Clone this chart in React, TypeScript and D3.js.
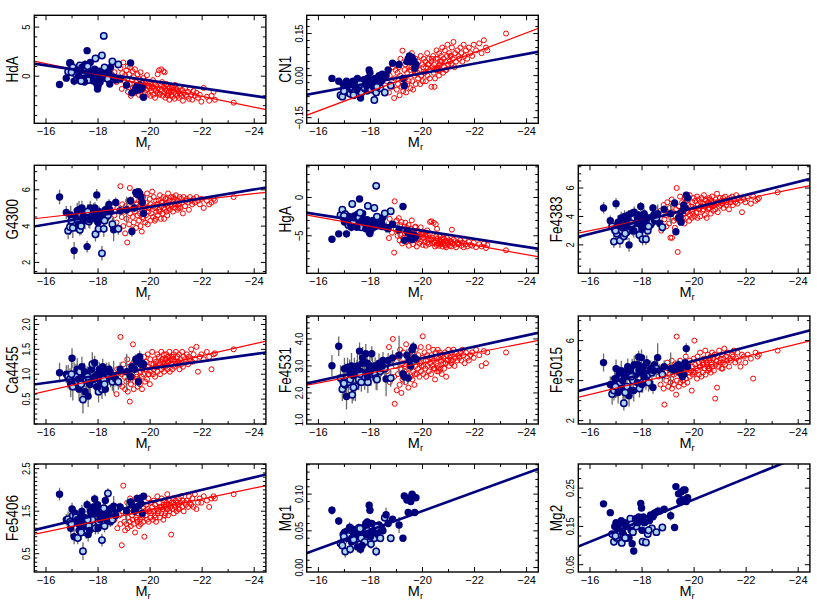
import React from "react";
import * as d3 from "d3";

// ---------- shared axis ----------
const mrDomain = [-15.55, -24.45];
const mrMajor = [-16, -18, -20, -22, -24];
const mrMinor = [-16, -17, -18, -19, -20, -21, -22, -23, -24];

// ---------- blue sample (dwarfs) ----------
const blueMr = [
  -16.52, -16.78, -16.85, -16.92, -16.95, -17.0, -17.03, -17.08, -17.12, -17.15,
  -17.2, -17.22, -17.27, -17.3, -17.33, -17.38, -17.42, -17.45, -17.5, -17.55,
  -17.58, -17.62, -17.65, -17.7, -17.75, -17.78, -17.82, -17.87, -17.9, -17.95,
  -17.98, -18.02, -18.05, -18.1, -18.15, -18.18, -18.22, -18.28, -18.33, -18.38,
  -18.42, -18.48, -18.55, -18.6, -18.68, -18.78, -18.85, -19.1, -19.25, -19.3,
  -19.45, -19.5, -19.55, -19.6, -19.65, -19.7, -19.75, -17.25, -17.48, -17.68,
  -17.88, -18.08, -18.25, -17.35, -17.85, -16.98, -18.45, -17.6, -18.0, -19.4,
];
const blueOpen = [
  0, 0, 1, 1, 0, 0, 1, 0, 0, 1,
  0, 1, 0, 1, 0, 0, 1, 0, 0, 1,
  0, 0, 1, 0, 0, 1, 0, 0, 1, 0,
  0, 1, 0, 0, 1, 0, 1, 0, 0, 1,
  0, 0, 1, 0, 0, 1, 0, 0, 0, 0,
  0, 0, 0, 0, 0, 0, 0, 0, 0, 0,
  0, 0, 1, 1, 0, 1, 0, 1, 0, 0,
];
const blueErr = [
  1.0, 0.9, 1.2, 1.1, 1.3, 1.0, 1.4, 1.2, 0.9, 1.3,
  1.1, 1.0, 1.2, 0.8, 1.1, 1.0, 1.4, 0.9, 1.2, 1.0,
  0.8, 1.1, 0.9, 1.0, 0.8, 1.2, 0.9, 0.7, 1.0, 0.8,
  0.9, 1.1, 0.7, 0.9, 1.0, 0.8, 1.1, 0.7, 0.9, 0.8,
  0.7, 0.8, 0.9, 1.6, 0.7, 0.8, 0.7, 1.8, 0.6, 0.7,
  0.5, 0.6, 0.5, 0.6, 0.5, 0.6, 0.5, 1.1, 0.9, 1.2,
  0.8, 0.9, 1.0, 1.2, 0.8, 1.3, 0.7, 1.0, 0.9, 0.6,
];

// ---------- red sample (giants) ----------
const redMr = [
  -18.63, -18.71, -18.74, -18.83, -18.86, -18.91, -18.93, -18.97, -19.01, -19.04,
  -19.06, -19.09, -19.12, -19.14, -19.15, -19.19, -19.22, -19.23, -19.26, -19.31,
  -19.33, -19.34, -19.37, -19.41, -19.42, -19.46, -19.47, -19.52, -19.54, -19.57,
  -19.59, -19.61, -19.63, -19.64, -19.68, -19.69, -19.73, -19.74, -19.78, -19.81,
  -19.83, -19.84, -19.88, -19.91, -19.93, -19.94, -19.99, -20.01, -20.03, -20.04,
  -20.08, -20.11, -20.13, -20.14, -20.18, -20.19, -20.23, -20.24, -20.28, -20.29,
  -20.33, -20.34, -20.38, -20.41, -20.43, -20.44, -20.48, -20.51, -20.53, -20.54,
  -20.58, -20.59, -20.63, -20.64, -20.66, -20.69, -20.71, -20.74, -20.76, -20.79,
  -20.81, -20.83, -20.86, -20.88, -20.91, -20.94, -20.96, -20.99, -21.02, -21.05,
  -21.07, -21.11, -21.13, -21.16, -21.19, -21.23, -21.26, -21.29, -21.34, -21.38,
  -21.41, -21.46, -21.49, -21.53, -21.58, -21.62, -21.67, -21.72, -21.78, -21.84,
  -21.91, -21.97, -22.06, -22.18, -22.27, -22.36, -22.44, -22.49, -23.21, -20.56,
  -19.96, -20.21, -20.46, -20.68, -20.89, -19.71, -19.49, -20.36, -20.61, -21.09,
];

// ---------- index values ----------
const hdaBlue = [
  -0.85, -0.2, 0.45, 1.35, 1.3, 0.8, 0.9, -0.5, 0.3, 0.2,
  0.6, -0.3, -0.4, 1.1, 0.5, 0.9, 0.0, -0.2, 1.2, 0.6,
  2.6, 0.3, -0.4, 1.4, 0.1, 0.2, -0.5, 0.7, 1.8, -0.8,
  -1.3, 0.3, 0.5, -0.1, 2.1, 0.2, 4.1, -0.2, 0.6, -0.3,
  0.3, 0.9, 1.5, -0.1, -0.4, 1.2, -0.3, -0.9, 1.35, -1.7,
  -1.2, -1.0, -1.4, -0.9, -1.3, -1.1, -2.15, 0.0, -0.6, 0.4,
  -0.2, -0.6, 0.9, -0.5, 0.1, 0.4, -0.8, 1.0, -1.0, -1.5,
];
const hdaRed = [
  0.4, -0.6, 1.2, -0.2, 0.8, -1.3, 0.3, 1.4, -0.5, 0.1,
  -1.0, 0.6, -0.3, 1.0, -1.6, 0.2, -0.8, 0.9, -2.0, -0.4,
  0.5, -1.2, -0.1, -1.7, 0.7, -0.6, -1.4, 0.2, -0.9, -1.9,
  -0.3, -1.1, 0.4, -1.6, -0.7, -2.1, -0.2, -1.3, -0.9, -1.7,
  -0.5, -1.4, 0.1, -1.0, -1.8, -0.6, -1.2, -2.0, -0.8, -1.5,
  -1.1, -0.4, -1.9, -1.3, -0.7, -2.2, -1.5, -1.0, -1.7, 0.2,
  -1.2, 0.6, -1.8, -0.9, 0.7, -1.4, -2.0, 0.5, -1.1, -1.6,
  -1.3, -2.2, -0.8, -1.5, -1.9, -1.0, -1.7, -2.4, -1.2, -1.5,
  -1.9, -1.1, -2.1, -1.4, -1.6, -2.3, -0.9, -1.8, -1.3, -2.0,
  -1.5, -2.2, -1.1, -1.8, -2.0, -1.4, -2.5, -1.7, -1.2, -1.9,
  -2.1, -1.6, -2.3, -1.3, -1.9, -2.4, -1.5, -2.0, -1.7, -2.2,
  -1.9, -2.6, -1.2, -2.1, -2.5, -2.0, -1.6, -2.4, -2.7, 0.4,
  -1.0, -1.4, -0.6, -2.0, -1.2, -0.7, -1.5, -1.9, -0.9, -1.6,
];
const cn1Blue = [
  -0.01, -0.02, -0.07, -0.075, -0.03, -0.04, -0.05, -0.02, -0.045, -0.06,
  -0.03, -0.065, -0.05, -0.04, -0.02, -0.035, -0.055, -0.03, -0.01, -0.05,
  -0.025, -0.08, -0.06, -0.04, -0.015, -0.045, -0.03, -0.055, -0.035, 0.02,
  0.01, -0.05, -0.02, -0.04, -0.087, -0.01, -0.06, -0.03, 0.0, -0.045,
  -0.02, -0.01, -0.06, 0.0, 0.02, -0.035, 0.044, 0.04, -0.01, -0.036,
  0.06, 0.07, 0.05, 0.065, 0.055, 0.026, 0.04, -0.03, -0.05, -0.02,
  -0.01, -0.025, -0.04, -0.07, -0.035, -0.055, 0.005, -0.03, -0.015, 0.05,
];
const cn1Red = [
  -0.02, -0.06, 0.0, -0.04, 0.03, -0.08, -0.01, 0.02, -0.05, 0.01,
  -0.03, 0.03, -0.07, 0.0, 0.06, -0.04, -0.02, 0.089, -0.055, 0.02,
  -0.01, 0.04, -0.06, 0.01, -0.03, 0.05, -0.02, 0.02, -0.045, 0.03,
  0.08, -0.02, 0.04, -0.05, 0.02, 0.0, 0.06, -0.03, 0.03, 0.01,
  -0.01, 0.05, 0.02, -0.03, 0.07, 0.0, 0.04, -0.02, 0.03, 0.06,
  0.01, 0.05, -0.02, 0.03, 0.08, 0.0, 0.04, 0.06, -0.01, 0.02,
  0.05, -0.04, 0.03, 0.07, 0.01, 0.04, -0.01, 0.06, 0.02, 0.09,
  0.03, 0.06, 0.0, 0.08, 0.04, 0.02, 0.07, 0.05, 0.1, 0.01,
  0.06, 0.03, 0.09, 0.05, 0.02, 0.07, 0.11, 0.04, 0.08, 0.05,
  0.07, 0.04, 0.1, 0.06, 0.12, 0.03, 0.08, 0.05, 0.09, 0.07,
  0.06, 0.1, 0.08, 0.05, 0.11, 0.07, 0.09, 0.06, 0.1, 0.08,
  0.07, 0.11, 0.09, 0.115, 0.08, 0.126, 0.1, 0.09, 0.15, 0.02,
  0.0, 0.04, -0.04, 0.05, 0.02, 0.01, 0.03, 0.06, 0.02, 0.07,
];
const g4300Blue = [
  5.6, 4.75, 3.75, 3.95, 4.6, 4.4, 3.9, 2.65, 4.5, 4.2,
  4.85, 4.3, 4.9, 3.8, 4.1, 5.0, 4.45, 4.6, 4.3, 4.6,
  2.87, 4.75, 4.25, 5.0, 4.5, 4.7, 4.9, 4.4, 3.55, 5.72,
  4.55, 3.85, 4.8, 4.6, 2.5, 4.65, 3.85, 4.9, 4.5, 4.6,
  5.2, 4.8, 4.1, 3.8, 5.3, 3.85, 4.85, 4.9, 5.4, 3.7,
  5.85, 5.75, 5.9, 5.8, 5.6, 5.3, 4.7, 4.1, 4.7, 4.35,
  5.0, 4.45, 4.3, 4.0, 4.7, 4.3, 4.9, 4.8, 4.2, 5.0,
];
const g4300Red = [
  4.6, 4.2, 5.0, 3.9, 6.2, 4.5, 5.2, 4.0, 4.8, 3.6,
  5.1, 4.4, 3.1, 4.9, 5.4, 4.1, 6.1, 4.7, 5.3, 3.8,
  4.5, 5.0, 4.2, 5.5, 4.8, 3.9, 5.2, 4.6, 5.9, 4.3,
  5.1, 4.7, 4.0, 5.4, 3.7, 4.9, 5.6, 4.4, 5.0, 4.2,
  5.3, 4.6, 5.8, 4.1, 5.0, 4.8, 5.5, 4.3, 5.2, 4.7,
  5.9, 4.5, 5.1, 5.6, 4.3, 5.0, 5.4, 4.8, 5.2, 4.6,
  5.4, 4.9, 5.7, 4.4, 5.1, 5.3, 4.7, 5.6, 5.0, 4.4,
  5.2, 5.5, 4.8, 5.3, 4.6, 5.8, 5.0, 5.4, 4.9, 5.2,
  5.6, 5.1, 5.4, 4.8, 5.5, 5.2, 5.0, 5.7, 5.3, 4.9,
  5.4, 5.2, 5.6, 5.0, 5.5, 5.3, 4.7, 5.6, 5.1, 5.4,
  5.5, 5.3, 4.9, 5.6, 5.4, 5.2, 5.5, 5.3, 5.6, 5.4,
  5.2, 5.5, 5.0, 5.4, 5.2, 5.3, 5.5, 5.4, 5.6, 4.9,
  5.0, 4.4, 5.3, 5.1, 5.6, 4.5, 5.2, 4.8, 5.5, 5.0,
];
const hgaBlue = [
  -5.45, -4.75, -2.3, -1.6, -2.6, -3.2, -2.2, -4.75, -3.0, -3.6,
  -2.5, -3.4, -3.9, -0.86, -2.9, -2.4, -3.3, -3.7, -2.2, -2.7,
  -0.2, -3.6, -3.9, -2.1, -3.3, -3.0, -4.1, -2.9, -1.1, -4.5,
  -4.7, -3.2, -3.5, -3.0, -1.38, -3.8, 1.52, -3.4, -3.7, -2.8,
  -3.3, -2.6, -2.1, -3.9, -4.1, -1.8, -3.5, -4.2, -1.17, -5.6,
  -4.6, -5.4, -5.2, -5.5, -4.9, -5.3, -5.1, -3.5, -3.9, -3.0,
  -3.4, -4.0, -2.5, -3.1, -3.6, -2.4, -3.8, -2.0, -4.3, -4.4,
];
const hgaRed = [
  -3.9, -5.3, -2.8, -4.6, -3.5, -7.2, -0.5, -4.1, -3.0, -5.0,
  -4.4, -2.7, -5.6, -3.6, -4.9, -3.2, -6.0, -4.2, -5.3, -3.8,
  -4.7, -3.3, -5.8, -4.0, -5.1, -3.6, -6.3, -4.5, -5.5, -4.1,
  -3.0, -5.2, -4.4, -6.1, -4.8, -5.6, -3.8, -5.0, -6.4, -4.3,
  -5.4, -4.6, -6.0, -5.1, -3.9, -5.7, -4.8, -6.2, -5.3, -4.5,
  -5.8, -4.9, -6.3, -5.2, -4.3, -5.9, -5.5, -6.1, -4.7, -3.2,
  -5.6, -3.1, -6.0, -5.3, -3.3, -5.8, -6.4, -3.5, -5.1, -6.2,
  -5.4, -6.0, -5.7, -6.3, -5.0, -5.9, -6.1, -5.5, -6.4, -5.2,
  -6.0, -5.4, -6.2, -5.7, -6.5, -5.3, -5.9, -6.1, -5.6, -6.3,
  -5.8, -6.4, -4.2, -6.0, -5.5, -6.2, -5.7, -6.5, -5.9, -6.1,
  -6.0, -5.6, -6.3, -5.9, -6.5, -5.4, -6.1, -6.4, -5.8, -6.2,
  -6.3, -5.9, -6.5, -6.1, -6.4, -6.0, -6.6, -6.2, -6.9, -4.1,
  -4.8, -5.0, -5.9, -5.7, -6.3, -3.9, -4.6, -5.5, -6.0, -5.7,
];
const fe4383Blue = [
  4.6, 3.7, 3.3, 2.23, 3.1, 4.9, 2.8, 3.6, 3.4, 2.3,
  3.9, 3.0, 3.6, 2.6, 4.0, 3.2, 2.9, 3.8, 2.0, 3.5,
  4.2, 3.3, 3.0, 4.3, 3.5, 3.1, 3.9, 4.1, 2.7, 4.7,
  3.8, 2.4, 3.3, 4.0, 2.4, 3.6, 3.0, 3.9, 3.4, 3.6,
  4.6, 3.7, 3.9, 4.2, 3.5, 3.24, 4.5, 4.2, 4.95, 2.93,
  4.0, 3.6, 4.4, 4.8, 4.6, 5.5, 5.3, 3.2, 4.1, 3.0,
  3.5, 4.2, 3.3, 2.8, 3.8, 3.0, 4.1, 3.5, 3.1, 3.9,
];
const fe4383Red = [
  3.6, 4.4, 3.0, 4.8, 3.8, 4.1, 3.3, 5.0, 4.2, 3.5,
  4.6, 2.5, 3.9, 5.2, 2.5, 4.3, 3.7, 4.9, 3.2, 4.5,
  6.0, 3.8, 1.5, 4.7, 4.0, 5.4, 3.6, 4.4, 5.0, 3.9,
  4.2, 4.9, 3.5, 5.3, 4.6, 3.9, 5.1, 4.3, 4.8, 3.7,
  5.5, 4.1, 4.7, 3.9, 5.0, 4.4, 5.3, 4.0, 4.6, 5.1,
  4.3, 5.4, 3.9, 4.8, 5.2, 4.5, 4.0, 5.0, 4.7, 5.3,
  4.4, 4.9, 5.5, 4.1, 4.7, 5.2, 3.9, 4.8, 5.0, 4.5,
  5.3, 4.6, 4.9, 4.2, 5.1, 5.4, 4.7, 4.4, 5.0, 4.8,
  4.5, 5.2, 4.9, 5.6, 4.3, 5.0, 4.7, 5.3, 4.8, 5.1,
  4.9, 5.3, 4.6, 5.1, 5.4, 4.8, 5.0, 5.2, 4.5, 5.3,
  5.0, 5.4, 4.8, 5.2, 5.0, 5.5, 4.9, 5.3, 5.1, 4.3,
  5.2, 5.0, 5.3, 4.9, 5.4, 5.1, 5.2, 5.3, 5.7, 4.6,
  4.2, 4.6, 5.1, 4.8, 5.0, 4.4, 3.9, 4.5, 5.2, 4.9,
];
const ca4455Blue = [
  1.03, 1.0, 0.95, 0.9, 0.8, 1.32, 0.75, 1.0, 0.85, 0.95,
  1.1, 0.85, 0.7, 1.05, 0.9, 1.15, 0.49, 0.95, 0.65, 0.9,
  1.0, 0.56, 0.85, 0.8, 1.1, 1.2, 0.9, 1.23, 0.8, 0.75,
  1.0, 0.65, 1.1, 0.85, 0.7, 1.15, 0.9, 0.7, 1.05, 1.0,
  1.1, 0.9, 0.85, 0.95, 0.9, 0.85, 1.1, 1.05, 0.95, 1.15,
  1.3, 1.25, 0.85, 1.35, 1.2, 1.22, 1.2, 0.9, 1.05, 0.8,
  0.95, 1.0, 0.8, 0.8, 0.9, 1.0, 1.05, 0.95, 0.75, 1.1,
];
const ca4455Red = [
  0.9, 0.6, 1.1, 0.8, 1.75, 1.0, 0.75, 1.2, 0.95, 0.7,
  1.05, 0.85, 1.3, 0.65, 0.9, 1.15, 0.45, 1.0, 0.8, 1.2,
  0.95, 1.6, 0.7, 1.1, 0.85, 1.25, 1.0, 0.75, 1.15, 0.9,
  1.3, 0.8, 1.05, 1.2, 0.95, 0.7, 1.15, 1.0, 1.35, 0.85,
  1.1, 1.25, 0.9, 1.4, 1.0, 1.15, 0.8, 1.3, 1.05, 1.2,
  1.45, 1.0, 1.2, 1.1, 1.3, 0.95, 1.25, 1.15, 1.4, 1.05,
  1.2, 1.35, 1.0, 1.25, 1.45, 1.1, 1.3, 1.15, 1.4, 1.05,
  1.3, 1.15, 1.4, 1.2, 1.1, 1.35, 1.25, 1.45, 1.05, 1.3,
  1.2, 1.35, 1.1, 1.3, 1.4, 1.15, 1.25, 1.45, 1.2, 1.35,
  1.25, 1.4, 1.1, 1.3, 1.2, 1.45, 1.15, 1.35, 1.3, 1.25,
  1.4, 1.2, 1.35, 1.3, 1.5, 1.25, 1.4, 1.3, 1.55, 1.05,
  1.35, 1.4, 1.3, 1.45, 1.35, 1.1, 1.4, 1.42, 1.5, 1.2,
  1.0, 1.15, 1.3, 1.25, 1.35, 1.1, 0.95, 1.2, 1.3, 1.25,
];
const fe4531Blue = [
  3.01, 3.73, 2.55, 2.14, 2.4, 2.9, 2.3, 1.87, 2.95, 2.4,
  2.8, 2.5, 3.0, 1.93, 2.65, 2.9, 2.25, 2.7, 3.0, 2.5,
  3.55, 2.8, 2.4, 3.3, 2.7, 2.6, 3.45, 3.1, 2.4, 2.9,
  3.0, 2.7, 3.45, 2.8, 2.75, 3.0, 2.55, 2.9, 3.1, 2.8,
  2.9, 3.2, 2.9, 2.52, 3.2, 2.55, 3.3, 3.4, 2.7, 2.6,
  2.55, 3.2, 3.0, 3.6, 3.7, 3.3, 3.25, 2.7, 2.85, 3.1,
  2.6, 2.95, 2.5, 2.2, 3.1, 2.35, 3.0, 2.7, 2.8, 3.4,
];
const fe4531Red = [
  2.8, 3.7, 2.4, 3.2, 4.0, 2.6, 1.6, 3.0, 2.1, 3.4,
  2.7, 3.3, 2.3, 3.6, 2.9, 2.0, 3.1, 2.5, 3.5, 2.8,
  3.0, 2.4, 3.8, 2.7, 3.2, 2.2, 3.4, 2.9, 2.6, 3.6,
  3.1, 2.5, 3.5, 2.8, 3.3, 2.3, 3.0, 3.6, 2.7, 3.2,
  2.9, 3.4, 2.6, 3.1, 3.7, 2.8, 3.3, 4.1, 2.7, 3.0,
  3.5, 2.9, 3.2, 2.6, 3.4, 3.0, 3.7, 2.8, 3.3, 3.1,
  2.7, 3.4, 3.0, 3.6, 2.9, 3.2, 2.5, 3.5, 3.1, 3.3,
  3.0, 3.6, 2.8, 3.3, 3.5, 2.9, 3.2, 2.7, 3.4, 3.1,
  3.3, 2.9, 3.5, 3.1, 2.6, 3.4, 3.2, 3.6, 3.0, 3.3,
  3.4, 3.1, 3.5, 3.2, 3.6, 3.0, 3.3, 3.5, 3.2, 3.4,
  3.3, 3.5, 3.2, 3.6, 3.4, 3.1, 3.5, 3.3, 3.2, 3.4,
  3.5, 3.3, 3.6, 3.4, 3.0, 3.55, 3.1, 3.5, 3.5, 2.8,
  3.0, 3.2, 2.9, 3.4, 3.1, 2.7, 3.0, 3.3, 2.9, 3.2,
];
const fe5015Blue = [
  4.9, 3.8, 3.33, 3.5, 4.1, 4.6, 3.8, 3.4, 4.3, 3.9,
  4.5, 4.1, 3.6, 2.87, 4.2, 4.4, 3.7, 4.7, 3.24, 4.2,
  3.5, 4.6, 4.0, 4.8, 4.3, 4.5, 3.9, 5.18, 3.6, 4.4,
  5.15, 3.9, 4.7, 4.4, 4.0, 4.9, 4.3, 3.9, 4.6, 4.4,
  3.66, 4.8, 4.6, 5.15, 4.5, 4.3, 4.7, 4.6, 4.5, 4.7,
  4.4, 4.6, 4.2, 4.3, 4.9, 5.6, 4.7, 4.0, 4.4, 3.5,
  4.5, 4.2, 3.9, 3.4, 4.8, 3.7, 4.5, 4.2, 3.8, 4.8,
];
const fe5015Red = [
  4.2, 3.8, 4.6, 3.6, 2.8, 4.4, 4.0, 4.9, 3.7, 4.3,
  4.7, 3.9, 4.1, 5.0, 3.6, 4.5, 3.8, 4.3, 4.8, 3.3,
  6.2, 4.0, 4.6, 3.7, 4.4, 5.0, 3.9, 4.2, 4.7, 4.0,
  4.5, 3.8, 4.9, 4.3, 5.2, 4.1, 4.6, 3.9, 4.8, 4.4,
  4.2, 5.0, 4.5, 3.5, 4.7, 4.3, 5.1, 6.0, 4.4, 4.8,
  4.6, 4.1, 5.2, 4.5, 4.9, 4.3, 5.4, 4.7, 4.2, 5.0,
  4.8, 4.4, 5.1, 4.6, 5.5, 4.3, 4.9, 4.7, 5.3, 4.5,
  5.0, 4.6, 5.2, 4.4, 4.9, 5.4, 4.7, 5.1, 4.5, 5.3,
  3.1, 4.8, 5.0, 3.65, 5.2, 4.7, 5.5, 4.9, 5.1, 4.6,
  5.3, 4.9, 5.1, 5.6, 4.8, 5.2, 5.0, 5.4, 4.7, 5.1,
  5.0, 5.3, 5.2, 5.5, 4.9, 5.1, 5.4, 5.0, 4.7, 5.3,
  5.2, 4.9, 5.3, 5.1, 4.1, 5.4, 5.2, 5.3, 5.5, 4.6,
  4.4, 4.7, 5.0, 4.8, 5.2, 4.5, 4.3, 4.9, 5.1, 4.6,
];
const fe5406Blue = [
  1.9, 1.3, 1.31, 1.25, 1.1, 1.55, 1.4, 0.9, 1.45, 1.35,
  1.3, 0.87, 1.05, 1.2, 1.35, 1.5, 0.56, 1.25, 1.1, 1.0,
  1.65, 0.95, 1.15, 1.5, 1.4, 1.3, 1.6, 1.79, 1.1, 1.45,
  1.65, 1.25, 1.5, 1.35, 0.82, 1.4, 1.57, 1.75, 1.3, 1.92,
  1.45, 1.25, 1.3, 1.62, 1.4, 1.57, 1.6, 1.5, 1.72, 1.65,
  1.55, 1.8, 1.62, 1.8, 1.68, 1.45, 1.85, 1.2, 1.35, 1.05,
  1.5, 1.3, 1.15, 1.0, 1.45, 1.2, 1.55, 1.3, 1.1, 1.5,
];
const fe5406Red = [
  1.3, 1.6, 1.1, 1.4, 1.2, 0.7, 1.5, 2.1, 1.25, 1.05,
  1.45, 1.2, 1.7, 1.1, 1.35, 1.55, 1.25, 1.8, 1.15, 1.4,
  1.3, 1.6, 1.2, 1.5, 1.0, 1.35, 1.7, 1.25, 1.45, 1.15,
  1.55, 1.3, 1.75, 1.2, 1.45, 1.35, 1.6, 1.25, 0.9, 1.5,
  1.4, 1.65, 1.3, 1.55, 1.8, 1.25, 1.5, 1.35, 1.7, 1.45,
  1.6, 1.3, 1.5, 1.75, 1.4, 1.65, 1.25, 1.55, 1.85, 1.45,
  1.5, 1.7, 1.35, 1.6, 1.45, 1.8, 1.55, 1.3, 1.65, 1.75,
  1.6, 1.45, 1.7, 1.55, 1.9, 1.4, 1.65, 1.5, 1.75, 1.6,
  0.95, 1.7, 1.55, 1.8, 1.45, 1.65, 1.6, 1.75, 1.5, 1.7,
  1.65, 1.8, 1.55, 1.7, 1.85, 1.6, 1.75, 1.5, 1.7, 1.65,
  1.75, 1.6, 1.85, 1.7, 1.65, 1.8, 1.6, 1.9, 1.55, 1.7,
  1.8, 1.7, 1.85, 1.75, 1.6, 1.8, 1.85, 1.8, 1.9, 1.4,
  1.5, 1.35, 1.6, 1.55, 1.7, 1.4, 1.3, 1.6, 1.65, 1.55,
];
const mg1Blue = [
  0.078, 0.0635, 0.033, 0.03, 0.045, 0.048, 0.022, 0.04, 0.05, 0.043,
  0.055, 0.025, 0.035, 0.04, 0.052, 0.045, 0.038, 0.05, 0.028, 0.054,
  0.042, 0.025, 0.04, 0.048, 0.055, 0.035, 0.06, 0.058, 0.05, 0.085,
  0.078, 0.032, 0.06, 0.05, 0.04, 0.057, 0.022, 0.045, 0.058, 0.04,
  0.055, 0.05, 0.068, 0.072, 0.06, 0.04, 0.066, 0.058, 0.04, 0.0975,
  0.075, 0.095, 0.09, 0.1, 0.097, 0.075, 0.095, 0.038, 0.047, 0.03,
  0.062, 0.048, 0.055, 0.038, 0.045, 0.042, 0.052, 0.053, 0.042, 0.092,
];
const mg2Blue = [
  0.209, 0.186, 0.13, 0.11, 0.15, 0.16, 0.12, 0.14, 0.155, 0.13,
  0.165, 0.107, 0.13, 0.125, 0.16, 0.15, 0.12, 0.155, 0.12, 0.17,
  0.14, 0.105, 0.135, 0.155, 0.17, 0.15, 0.16, 0.175, 0.165, 0.21,
  0.198, 0.11, 0.175, 0.16, 0.108, 0.17, 0.13, 0.165, 0.18, 0.145,
  0.175, 0.185, 0.135, 0.19, 0.19, 0.147, 0.195, 0.178, 0.147, 0.254,
  0.215, 0.24, 0.22, 0.245, 0.245, 0.215, 0.225, 0.135, 0.15, 0.086,
  0.17, 0.16, 0.14, 0.12, 0.16, 0.125, 0.18, 0.155, 0.14, 0.235,
];

// fit lines: [value at Mr=-15.5, value at Mr=-24.5]
const fitMr = [-15.5, -24.5];

type Panel = {
  name: string; col: number; row: number; domain: number[]; labels: number[];
  fmt: string; minor: number; blue: number[]; red: number[] | null;
  err: number; blueLine: number[]; redLine: number[] | null;
};

const panels: Panel[] = [
  { name: "HdA", col: 0, row: 0, domain: [-4.8, 6.2], labels: [0, 5], fmt: "d", minor: 1, blue: hdaBlue, red: hdaRed, err: 0.35, blueLine: [1.29, -2.2], redLine: [1.55, -3.44] },
  { name: "CN1", col: 1, row: 0, domain: [-0.17, 0.215], labels: [-0.15, 0, 0.15], fmt: ".2f", minor: 0.025, blue: cn1Blue, red: cn1Red, err: 0.008, blueLine: [-0.069, 0.086], redLine: [-0.143, 0.17] },
  { name: "G4300", col: 0, row: 1, domain: [1.4, 7.35], labels: [2, 4, 6], fmt: "d", minor: 0.5, blue: g4300Blue, red: g4300Red, err: 0.4, blueLine: [3.97, 6.14], redLine: [4.4, 5.87] },
  { name: "HgA", col: 1, row: 1, domain: [-9.9, 4.2], labels: [-5, 0], fmt: "d", minor: 1, blue: hgaBlue, red: hgaRed, err: 0.45, blueLine: [-1.96, -6.73], redLine: [-2.26, -7.77] },
  { name: "Fe4383", col: 2, row: 1, domain: [0, 7.6], labels: [2, 4, 6], fmt: "d", minor: 0.5, blue: fe4383Blue, red: fe4383Red, err: 0.4, blueLine: [2.54, 6.66], redLine: [2.82, 6.19] },
  { name: "Ca4455", col: 0, row: 2, domain: [0, 2.17], labels: [0.5, 1.0, 1.5, 2.0], fmt: ".1f", minor: 0.1, blue: ca4455Blue, red: ca4455Red, err: 0.2, blueLine: [0.79, 1.44], redLine: [0.6, 1.67] },
  { name: "Fe4531", col: 1, row: 2, domain: [0.85, 4.85], labels: [1, 2, 3, 4], fmt: ".1f", minor: 0.2, blue: fe4531Blue, red: fe4531Red, err: 0.4, blueLine: [2.34, 4.24], redLine: [2.28, 3.95] },
  { name: "Fe5015", col: 2, row: 2, domain: [1.83, 7.23], labels: [2, 4, 6], fmt: "d", minor: 0.5, blue: fe5015Blue, red: fe5015Red, err: 0.45, blueLine: [3.46, 6.53], redLine: [3.15, 6.0] },
  { name: "Fe5406", col: 0, row: 3, domain: [0.07, 2.61], labels: [0.5, 1.5, 2.5], fmt: ".1f", minor: 0.1, blue: fe5406Blue, red: fe5406Red, err: 0.15, blueLine: [1.05, 2.37], redLine: [0.95, 2.11] },
  { name: "Mg1", col: 1, row: 3, domain: [-0.006, 0.141], labels: [0, 0.05, 0.1], fmt: ".2f", minor: 0.01, blue: mg1Blue, red: null, err: 0.006, blueLine: [0.019, 0.135], redLine: null },
  { name: "Mg2", col: 2, row: 3, domain: [0.031, 0.313], labels: [0.05, 0.15, 0.25], fmt: ".2f", minor: 0.025, blue: mg2Blue, red: null, err: 0.007, blueLine: [0.096, 0.345], redLine: null },
];

const colLeft = [34.3, 306.7, 578.3];
const plotW = 231.6;
const rowTop = [15.3, 165.3, 316, 464];
const plotH = 108;

const NAVY = "#00007f";
const RED = "#ff0000";
const LIGHT = "#a9d6ee";
const FONT = "'Liberation Sans', Arial, Helvetica, sans-serif";

function PanelView({ p, idx }: { p: Panel; idx: number }) {
  const x0 = colLeft[p.col];
  const y0 = rowTop[p.row];
  const xs = d3.scaleLinear().domain(mrDomain).range([x0, x0 + plotW]);
  const ys = d3.scaleLinear().domain(p.domain).range([y0 + plotH, y0]);
  const fmt = d3.format(p.fmt);
  const clipId = `clip${idx}`;
  const lineGen = d3.line<number[]>().x((d) => xs(d[0])).y((d) => ys(d[1]));
  const kLo = Math.ceil(p.domain[0] / p.minor - 1e-6);
  const kHi = Math.floor(p.domain[1] / p.minor + 1e-6);
  const yTicks = d3.range(kLo, kHi + 1).map((k) => k * p.minor);
  const isMajor = (v: number) => p.labels.some((l) => Math.abs(l - v) < p.minor * 0.01);
  const xr = x0 + plotW;
  const yb = y0 + plotH;
  const titleCx = (x0 + x0 + plotW) / 2 - 7;
  return (
    <g>
      <defs>
        <clipPath id={clipId}>
          <rect x={x0} y={y0} width={plotW} height={plotH} />
        </clipPath>
      </defs>
      <g clipPath={`url(#${clipId})`}>
        {p.red && p.red.map((v, i) => (
          <circle key={"r" + i} cx={xs(redMr[i])} cy={ys(v)} r={2.5} fill="none" stroke={RED} strokeWidth={1} />
        ))}
        {p.blue.map((v, i) => (
          <line key={"e" + i} x1={xs(blueMr[i])} x2={xs(blueMr[i])} y1={ys(v - p.err * blueErr[i])} y2={ys(v + p.err * blueErr[i])} stroke="#6b6b6b" strokeWidth={1.3} />
        ))}
        {p.blue.map((v, i) =>
          blueOpen[i] ? (
            <circle key={"b" + i} cx={xs(blueMr[i])} cy={ys(v)} r={3.2} fill={LIGHT} stroke={NAVY} strokeWidth={1.5} />
          ) : (
            <circle key={"b" + i} cx={xs(blueMr[i])} cy={ys(v)} r={3.7} fill={NAVY} stroke="none" />
          )
        )}
        {p.redLine && (
          <path d={lineGen([[fitMr[0], p.redLine[0]], [fitMr[1], p.redLine[1]]]) || ""} stroke={RED} strokeWidth={1.2} fill="none" />
        )}
        <path d={lineGen([[fitMr[0], p.blueLine[0]], [fitMr[1], p.blueLine[1]]]) || ""} stroke={NAVY} strokeWidth={2.6} fill="none" />
      </g>
      {mrMinor.map((t) => {
        const len = mrMajor.includes(t) ? 5 : 3;
        const x = xs(t);
        return (
          <g key={"xt" + t}>
            <line x1={x} x2={x} y1={yb} y2={yb - len} stroke="#000" strokeWidth={1} />
            <line x1={x} x2={x} y1={y0} y2={y0 + len} stroke="#000" strokeWidth={1} />
          </g>
        );
      })}
      {yTicks.map((t, i) => {
        const len = isMajor(t) ? 5 : 3;
        const y = ys(t);
        return (
          <g key={"yt" + i}>
            <line x1={x0} x2={x0 + len} y1={y} y2={y} stroke="#000" strokeWidth={1} />
            <line x1={xr} x2={xr - len} y1={y} y2={y} stroke="#000" strokeWidth={1} />
          </g>
        );
      })}
      <rect x={x0} y={y0} width={plotW} height={plotH} fill="none" stroke="#000" strokeWidth={1.4} />
      {mrMajor.map((t) => (
        <text key={"xl" + t} x={xs(t)} y={yb + 11.5} textAnchor="middle" fontSize={11} fontFamily={FONT}>
          {"\u2212" + Math.abs(t)}
        </text>
      ))}
      {p.labels.map((t, i) => (
        <text key={"yl" + i} transform={`translate(${x0 - 4},${ys(t)}) rotate(-90) scale(0.8,1)`} textAnchor="middle" fontSize={11.5} fontFamily={FONT}>
          {fmt(t)}
        </text>
      ))}
      <text transform={`translate(${x0 - 16},${(y0 + yb) / 2}) rotate(-90) scale(0.82,1)`} textAnchor="middle" fontSize={16.5} fontFamily={FONT}>
        {p.name}
      </text>
      <text x={titleCx} y={yb + 24} textAnchor="middle" fontSize={14.5} fontFamily={FONT}>
        M<tspan fontSize={9.5} dy={3}>r</tspan>
      </text>
    </g>
  );
}

export default function App() {
  return (
    <svg width={817} height={613} style={{ position: "absolute", left: 0, top: 0, background: "#fff" }}>
      <rect width={817} height={613} fill="#fff" />
      {panels.map((p, i) => (
        <PanelView key={p.name} p={p} idx={i} />
      ))}
    </svg>
  );
}
